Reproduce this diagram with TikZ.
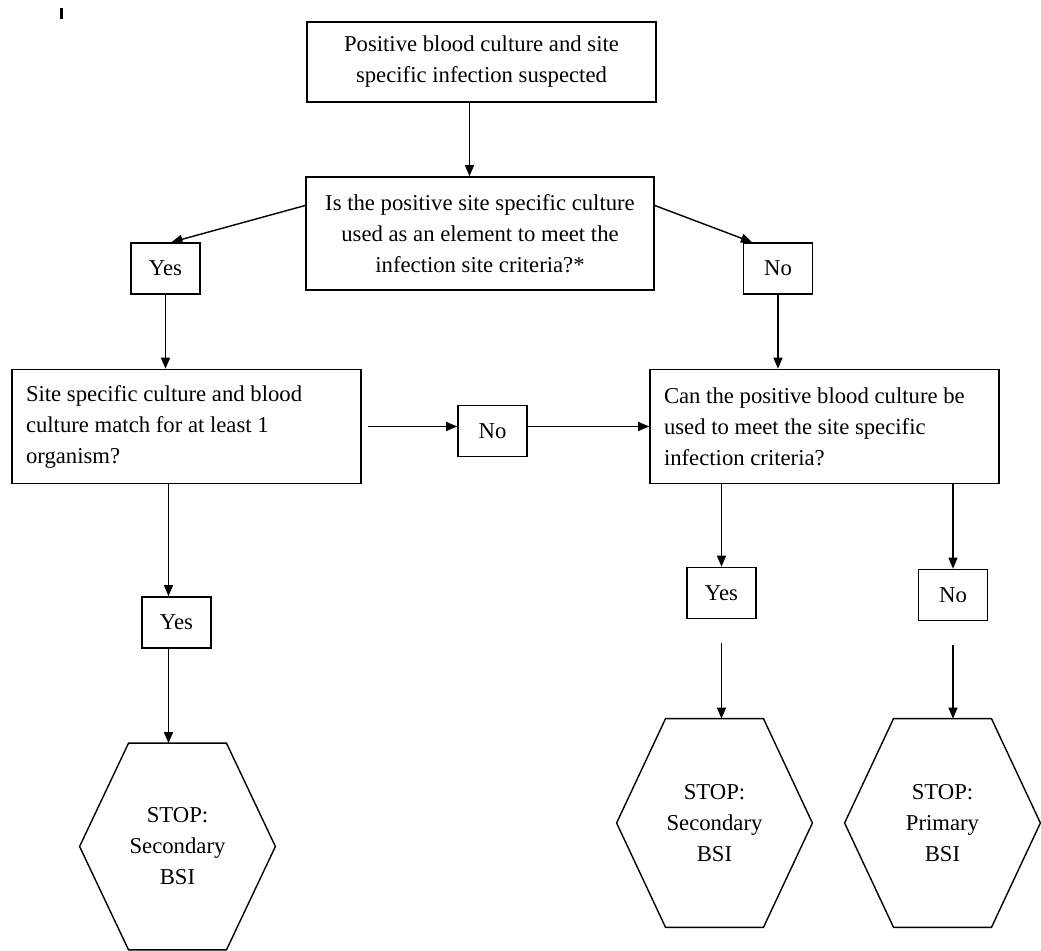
\documentclass[tikz,border=0pt]{standalone}
\usepackage{fontspec}
\setmainfont{Liberation Serif}
\usepackage{tikz}
\usetikzlibrary{positioning, arrows.meta, calc}

\begin{document}
\begin{tikzpicture}[x=0.5pt, y=-0.5pt,
    every node/.style={font=\fontsize{11.35}{15.5}\selectfont},
    box/.style={draw, line width=0.8pt, inner sep=0pt, align=center},
    sidebox/.style={draw, line width=0.8pt, inner xsep=7pt, inner ysep=0pt, text width=160.5pt, align=flush left, minimum height=57pt},
    ynbox/.style={draw, line width=0.8pt, minimum width=34.5pt, minimum height=25.5pt, inner sep=0pt},
    hexnode/.style={minimum width=97.5pt, minimum height=103pt, inner sep=0pt, align=center},
    arr/.style={-{Triangle[length=5.5pt, width=4.5pt]}, line width=0.7pt}]
  \useasboundingbox (0,0) rectangle (1041,951);
  \draw[line width=1.5pt] (61,8) -- (61,19);

  \node[box, minimum width=174.5pt, minimum height=40pt] (start) at (481.5,62)
    {Positive blood culture and site\\specific infection suspected};
  \node[box, minimum width=174pt, minimum height=56.5pt] (quest) at (480,233.5)
    {Is the positive site specific culture\\used as an element to meet the\\infection site criteria?*};
  \node[ynbox] (yesA) at (165.5,268.5) {Yes};
  \node[ynbox] (noA) at (778,268.5) {No};
  \node[sidebox] (match) at (186.5,426.5)
    {Site specific culture and blood\\culture match for at least 1\\organism?};
  \node[ynbox] (noB) at (492.5,431) {No};
  \node[sidebox] (blood) at (824.5,426.5)
    {Can the positive blood culture be\\used to meet the site specific\\infection criteria?};
  \node[ynbox] (yesB) at (176.5,622.5) {Yes};
  \node[ynbox] (yesC) at (721.5,593) {Yes};
  \node[ynbox] (noC) at (953,595) {No};
  \node[hexnode] (hexA) at (177.5,846.5) {STOP:\\Secondary\\BSI};
  \node[hexnode, minimum height=104pt] (hexB) at (714.5,823) {STOP:\\Secondary\\BSI};
  \node[hexnode, minimum height=104pt] (hexC) at (942.5,823) {STOP:\\Primary\\BSI};

  \foreach \h in {hexA,hexB,hexC}
    \draw[line width=0.7pt] (\h.west) -- ($(\h.north west)!0.25!(\h.north east)$)
      -- ($(\h.north west)!0.75!(\h.north east)$) -- (\h.east)
      -- ($(\h.south west)!0.75!(\h.south east)$)
      -- ($(\h.south west)!0.25!(\h.south east)$) -- cycle;

  \draw[arr] ([xshift=-6pt]start.south) -- ([xshift=-6pt]start.south |- quest.north);
  \draw[arr] ([yshift=14pt]quest.west) -- ([xshift=3pt]yesA.north);
  \draw[arr] ([yshift=14pt]quest.east) -- ([xshift=-13pt]noA.north);
  \draw[arr] (yesA) -- (yesA |- match.north);
  \draw[arr] (noA) -- (noA |- blood.north);
  \draw[arr, shorten <=3pt] (match.east) -- (noB.west |- match.east);
  \draw[arr] (noB.east |- match.east) -- (blood.west |- match.east);
  \draw[arr] ([xshift=-4pt]yesB.north |- match.south) -- ([xshift=-4pt]yesB.north);
  \draw[arr] ([xshift=-4pt]yesB.south) -- ([xshift=-4pt]yesB.south |- hexA.north);
  \draw[arr] (yesC |- blood.south) -- (yesC);
  \draw[arr] (noC |- blood.south) -- (noC);
  \draw[arr, shorten <=12pt] (yesC) -- (yesC |- hexB.north);
  \draw[arr, shorten <=12pt] (noC) -- (noC |- hexC.north);
\end{tikzpicture}
\end{document}
